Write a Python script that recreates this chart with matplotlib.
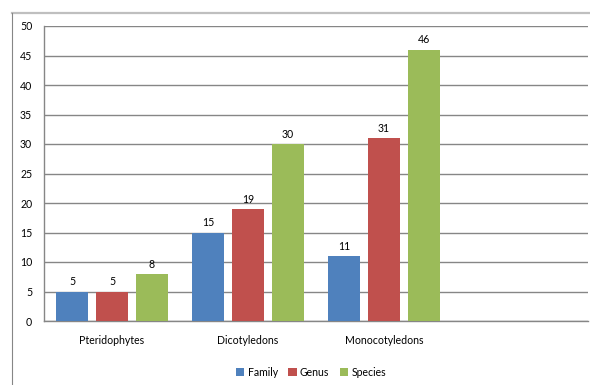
import matplotlib.pyplot as plt
from matplotlib.lines import Line2D
import numpy as np

plt.rcParams['font.family'] = ['Lato', 'DejaVu Sans']

categories = ['Pteridophytes', 'Dicotyledons', 'Monocotyledons']
family = [5, 15, 11]
genus = [5, 19, 31]
species = [8, 30, 46]
series_names = ['Family', 'Genus', 'Species']
colors = ['#4F81BD', '#C0504D', '#9BBB59']

fig = plt.figure(figsize=(5.9, 3.85), dpi=100)
ax = fig.add_axes([44 / 590, 64 / 385, 544 / 590, 295 / 385])

x = np.arange(len(categories))
width = 0.235
step = 0.294
for i, (vals, name, col) in enumerate(zip([family, genus, species], series_names, colors)):
    pos = x + (i - 1) * step
    bars = ax.bar(pos, vals, width, color=col, label=name, zorder=3)
    for b, v in zip(bars, vals):
        ax.annotate(str(v), (b.get_x() + b.get_width() / 2, v),
                    xytext=(0, 3), textcoords='offset points',
                    ha='center', va='bottom', fontsize=7.6, color='#000000')

ax.set_xlim(-0.5, 3.5)
ax.set_ylim(0, 50)
ax.set_yticks(range(0, 51, 5))
ax.set_xticks(x)
ax.set_xticklabels(categories)
ax.tick_params(axis='both', length=0, labelsize=7.6, colors='#000000')
ax.tick_params(axis='y', pad=8.5)
ax.tick_params(axis='x', pad=10)
ax.yaxis.grid(True, color='#868686', linewidth=1)
ax.set_axisbelow(True)
for s in ['top', 'right']:
    ax.spines[s].set_visible(False)
for s in ['left', 'bottom']:
    ax.spines[s].set_color('#868686')
    ax.spines[s].set_linewidth(1)

ax.legend(loc='upper center', bbox_to_anchor=(311 / 590, 28 / 385),
          bbox_transform=fig.transFigure, ncol=3, frameon=False,
          fontsize=7.6, handlelength=0.8, handleheight=0.8,
          handletextpad=0.3, columnspacing=1.0)

# outer chart frame (cropped)
fig.add_artist(Line2D([12 / 590, 1], [1 - 13 / 385, 1 - 13 / 385],
                      color='#BFBFBF', linewidth=1.6, transform=fig.transFigure))
fig.add_artist(Line2D([12 / 590, 12 / 590], [0, 1 - 13 / 385],
                      color='#868686', linewidth=0.8, transform=fig.transFigure))

fig.savefig('out.png', dpi=100)
